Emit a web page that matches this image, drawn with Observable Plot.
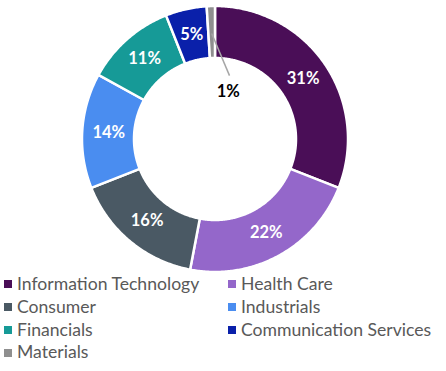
<!DOCTYPE html>
<html><head><meta charset="utf-8">
<script src="https://cdn.jsdelivr.net/npm/d3@7"></script>
<script src="https://cdn.jsdelivr.net/npm/@observablehq/plot@0.6"></script>
<style>
body{margin:0;background:#fff;font-family:Lato,"Open Sans",sans-serif;}
#chart{position:absolute;left:0;top:0;}
#legend{position:absolute;left:0;top:273px;width:446px;display:grid;grid-template-columns:224px 222px;}
.item{height:22.8px;line-height:22.8px;font-size:17.6px;color:#595959;display:flex;align-items:center;white-space:nowrap}
.sw{width:8px;height:8px;margin-left:4px;margin-right:5px;flex:none}
</style></head><body>
<div id="chart"></div><div id="legend"></div>
<script>
const sectors = ["Information Technology","Health Care","Consumer","Industrials","Financials","Communication Services","Materials"];
const weights = [31,22,16,14,11,5,1];
const labels = ["31%","22%","16%","14%","11%","5%","1%"];
const colors = ["#4a0e57","#9467ca","#4a5964","#4a8df0","#169a97","#0a20aa","#8f8f8f"];

const R0 = 81/132, R1 = 133/132, RM = 106.5/132;
const pie = d3.pie().sort(null).value(d => d.weight)(
  sectors.map((s, i) => ({sector: s, weight: weights[i], label: labels[i]}))
);
// arc outlines (geometry from the pie angles)
const outlines = pie.map(p => {
  const n = Math.max(2, Math.ceil((p.endAngle - p.startAngle) / 0.01));
  const pts = [];
  for (let k = 0; k <= n; k++) { const a = p.startAngle + (p.endAngle - p.startAngle) * k / n; pts.push({x: R1 * Math.sin(a), y: R1 * Math.cos(a)}); }
  for (let k = n; k >= 0; k--) { const a = p.startAngle + (p.endAngle - p.startAngle) * k / n; pts.push({x: R0 * Math.sin(a), y: R0 * Math.cos(a)}); }
  return {sector: p.data.sector, pts};
});
const mid = p => (p.startAngle + p.endAngle) / 2;
const inside = pie.slice(0, -1);
const small = pie[pie.length - 1];
const smallLabel = {x: 0.10, y: 0.355};
const leader = [{x1: 0.80 * Math.sin(mid(small)), y1: 0.80 * Math.cos(mid(small)), x2: 0.11, y2: 0.48}];

const plot = Plot.plot({
  width: 446, height: 273,
  margin: 0,
  x: {domain: [-1, 1], range: [82.5, 346.5], axis: null},
  y: {domain: [-1, 1], range: [270.5, 6.5], axis: null},
  color: {domain: sectors, range: colors},
  style: {fontFamily: "Lato, 'Open Sans', sans-serif", background: "white"},
  marks: [
    ...outlines.map(o => Plot.line(o.pts, {x: "x", y: "y", curve: "linear-closed", fill: colors[sectors.indexOf(o.sector)], stroke: "white", strokeWidth: 2.5})),
    Plot.text(inside, {x: p => RM * Math.sin(mid(p)), y: p => RM * Math.cos(mid(p)), text: p => p.data.label, fill: "white", fontWeight: "bold", fontSize: 16.5}),
    Plot.link(leader, {x1: "x1", y1: "y1", x2: "x2", y2: "y2", stroke: "#a6a6a6", strokeWidth: 1.5}),
    Plot.text([small], {x: () => smallLabel.x, y: () => smallLabel.y, text: p => p.data.label, fill: "black", fontWeight: "bold", fontSize: 16.5})
  ]
});
document.getElementById("chart").append(plot);

const legend = document.getElementById("legend");
sectors.forEach((s, i) => {
  const it = document.createElement("div"); it.className = "item";
  const sw = document.createElement("span"); sw.className = "sw"; sw.style.background = colors[i];
  const t = document.createElement("span"); t.textContent = s;
  it.append(sw, t); legend.append(it);
});
</script>
</body></html>
